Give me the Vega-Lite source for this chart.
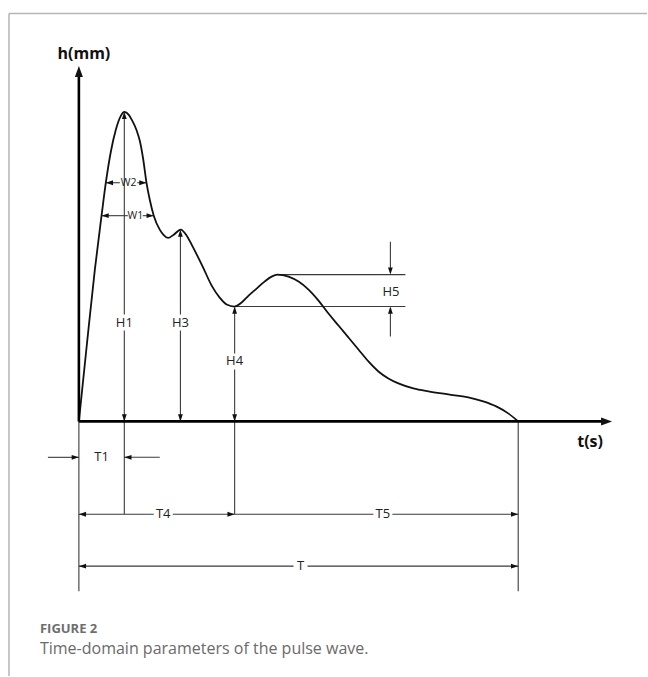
{
  "$schema": "https://vega.github.io/schema/vega-lite/v6.json",
  "width": 648,
  "height": 677,
  "padding": 0,
  "autosize": {"type": "fit", "contains": "padding"},
  "config": {"view": {"stroke": null}},
  "background": "white",
  "datasets": {
    "curve": [
      {"t": 0, "h": 0}, {"t": 8, "h": 77}, {"t": 16, "h": 152}, {"t": 22.7, "h": 206}, {"t": 27, "h": 239},
      {"t": 32, "h": 270}, {"t": 37, "h": 292}, {"t": 42, "h": 306}, {"t": 45.5, "h": 310}, {"t": 50, "h": 307},
      {"t": 53, "h": 302}, {"t": 58, "h": 291}, {"t": 61, "h": 281}, {"t": 64.5, "h": 262}, {"t": 67.7, "h": 239},
      {"t": 71, "h": 222}, {"t": 75, "h": 206}, {"t": 81, "h": 192}, {"t": 85, "h": 186.5}, {"t": 89.3, "h": 183.7},
      {"t": 95, "h": 187}, {"t": 102, "h": 192}, {"t": 108, "h": 186}, {"t": 114, "h": 175}, {"t": 124, "h": 155},
      {"t": 133, "h": 136}, {"t": 141, "h": 124}, {"t": 148, "h": 117}, {"t": 156, "h": 115}, {"t": 163, "h": 119},
      {"t": 170, "h": 126}, {"t": 178, "h": 133}, {"t": 186, "h": 140}, {"t": 193, "h": 145}, {"t": 199, "h": 147},
      {"t": 210, "h": 145}, {"t": 220, "h": 140}, {"t": 230, "h": 132}, {"t": 240, "h": 121}, {"t": 250, "h": 108},
      {"t": 260, "h": 96}, {"t": 270, "h": 84}, {"t": 280, "h": 72}, {"t": 290, "h": 60}, {"t": 300, "h": 50},
      {"t": 310, "h": 43}, {"t": 320, "h": 38}, {"t": 335, "h": 33}, {"t": 350, "h": 30}, {"t": 370, "h": 27},
      {"t": 390, "h": 24}, {"t": 405, "h": 20}, {"t": 418, "h": 15}, {"t": 430, "h": 8}, {"t": 440, "h": 0}
    ],
    "segments": [
      {"k": "frame", "t": -70, "h": 408.5, "t2": 569, "h2": 408.5},
      {"k": "frame", "t": -70, "h": -255, "t2": -70, "h2": 408.5},
      {"k": "axis", "t": 0, "h": 0, "t2": 0, "h2": 350},
      {"k": "axis", "t": 0, "h": 0, "t2": 528, "h2": 0},
      {"k": "dim", "t": 45.5, "h": -93, "t2": 45.5, "h2": 91},
      {"k": "dim", "t": 45.5, "h": 107, "t2": 45.5, "h2": 308},
      {"k": "dim", "t": 101.7, "h": 0, "t2": 101.7, "h2": 91},
      {"k": "dim", "t": 101.7, "h": 107, "t2": 101.7, "h2": 190},
      {"k": "dim", "t": 156, "h": -93, "t2": 156, "h2": 52},
      {"k": "dim", "t": 156, "h": 68, "t2": 156, "h2": 113},
      {"k": "dim", "t": 0, "h": -170, "t2": 0, "h2": 0},
      {"k": "dim", "t": 440, "h": -170, "t2": 440, "h2": 0},
      {"k": "dim", "t": 199, "h": 147, "t2": 327, "h2": 147},
      {"k": "dim", "t": 156, "h": 115, "t2": 327, "h2": 115},
      {"k": "dim", "t": 312, "h": 180, "t2": 312, "h2": 149},
      {"k": "dim", "t": 312, "h": 85, "t2": 312, "h2": 113},
      {"k": "dim", "t": 27, "h": 239, "t2": 41, "h2": 239},
      {"k": "dim", "t": 58.5, "h": 239, "t2": 67.7, "h2": 239},
      {"k": "dim", "t": 22.7, "h": 206, "t2": 49, "h2": 206},
      {"k": "dim", "t": 64, "h": 206, "t2": 75, "h2": 206},
      {"k": "dim", "t": -31, "h": -36, "t2": 0, "h2": -36},
      {"k": "dim", "t": 45.5, "h": -36, "t2": 81, "h2": -36},
      {"k": "dim", "t": 0, "h": -93, "t2": 75, "h2": -93},
      {"k": "dim", "t": 94, "h": -93, "t2": 156, "h2": -93},
      {"k": "dim", "t": 156, "h": -93, "t2": 295, "h2": -93},
      {"k": "dim", "t": 314, "h": -93, "t2": 440, "h2": -93},
      {"k": "dim", "t": 0, "h": -145, "t2": 215, "h2": -145},
      {"k": "dim", "t": 229, "h": -145, "t2": 440, "h2": -145}
    ],
    "arrows": [
      {"t": 0, "h": 356, "dir": "bigup"},
      {"t": 534, "h": 0, "dir": "bigright"},
      {"t": 45.5, "h": 310, "dir": "up"},
      {"t": 45.5, "h": 0, "dir": "down"},
      {"t": 101.7, "h": 192, "dir": "up"},
      {"t": 101.7, "h": 0, "dir": "down"},
      {"t": 156, "h": 115, "dir": "up"},
      {"t": 156, "h": 0, "dir": "down"},
      {"t": 312, "h": 147, "dir": "down"},
      {"t": 312, "h": 115, "dir": "up"},
      {"t": 27, "h": 239, "dir": "left"},
      {"t": 67.7, "h": 239, "dir": "right"},
      {"t": 22.7, "h": 206, "dir": "left"},
      {"t": 75, "h": 206, "dir": "right"},
      {"t": 0, "h": -36, "dir": "right"},
      {"t": 45.5, "h": -36, "dir": "left"},
      {"t": 0, "h": -93, "dir": "left"},
      {"t": 156, "h": -93, "dir": "right"},
      {"t": 440, "h": -93, "dir": "right"},
      {"t": 0, "h": -145, "dir": "left"},
      {"t": 440, "h": -145, "dir": "right"}
    ],
    "labels": [
      {"g": "lbl", "label": "H1", "t": 45.5, "h": 99},
      {"g": "lbl", "label": "H3", "t": 101.7, "h": 99},
      {"g": "lbl", "label": "H4", "t": 156, "h": 60},
      {"g": "lbl", "label": "H5", "t": 312.5, "h": 130},
      {"g": "lbl", "label": "T1", "t": 22.7, "h": -36},
      {"g": "lbl", "label": "T4", "t": 84.5, "h": -93},
      {"g": "lbl", "label": "T5", "t": 304.5, "h": -93},
      {"g": "lbl", "label": "T", "t": 222, "h": -145},
      {"g": "small", "label": "W2", "t": 49.8, "h": 239},
      {"g": "small", "label": "W1", "t": 56.5, "h": 206},
      {"g": "axis", "label": "h(mm)", "t": 5, "h": 368},
      {"g": "axis", "label": "t(s)", "t": 512, "h": -21},
      {"g": "cap1", "label": "FIGURE 2", "t": -39, "h": -208},
      {"g": "cap2", "label": "Time-domain parameters of the pulse wave.", "t": -39, "h": -228}
    ]
  },
  "layer": [
    {
      "data": {"name": "segments"},
      "transform": [{"filter": "datum.k === 'frame'"}],
      "mark": {"type": "rule", "color": "#b5b5b5", "strokeWidth": 1.5},
      "encoding": {
        "x": {"field": "t", "type": "quantitative", "scale": {"domain": [-79, 569], "nice": false, "zero": false}, "axis": null},
        "x2": {"field": "t2"},
        "y": {"field": "h", "type": "quantitative", "scale": {"domain": [-255, 422], "nice": false, "zero": false}, "axis": null},
        "y2": {"field": "h2"}
      }
    },
    {
      "data": {"name": "segments"},
      "transform": [{"filter": "datum.k === 'dim'"}],
      "mark": {"type": "rule", "color": "#3a3a3a", "strokeWidth": 1.1},
      "encoding": {
        "x": {"field": "t", "type": "quantitative", "scale": {"domain": [-79, 569], "nice": false, "zero": false}, "axis": null},
        "x2": {"field": "t2"},
        "y": {"field": "h", "type": "quantitative", "scale": {"domain": [-255, 422], "nice": false, "zero": false}, "axis": null},
        "y2": {"field": "h2"}
      }
    },
    {
      "data": {"name": "curve"},
      "mark": {"type": "line", "color": "#111", "strokeWidth": 1.8, "interpolate": "monotone"},
      "encoding": {
        "x": {"field": "t", "type": "quantitative", "scale": {"domain": [-79, 569], "nice": false, "zero": false}, "axis": null},
        "y": {"field": "h", "type": "quantitative", "scale": {"domain": [-255, 422], "nice": false, "zero": false}, "axis": null}
      }
    },
    {
      "data": {"name": "segments"},
      "transform": [{"filter": "datum.k === 'axis'"}],
      "mark": {"type": "rule", "color": "#000", "strokeWidth": 2.6},
      "encoding": {
        "x": {"field": "t", "type": "quantitative", "scale": {"domain": [-79, 569], "nice": false, "zero": false}, "axis": null},
        "x2": {"field": "t2"},
        "y": {"field": "h", "type": "quantitative", "scale": {"domain": [-255, 422], "nice": false, "zero": false}, "axis": null},
        "y2": {"field": "h2"}
      }
    },
    {
      "data": {"name": "arrows"},
      "mark": {"type": "point", "filled": true, "opacity": 1, "color": "#111", "size": 16, "strokeWidth": 0},
      "encoding": {
        "x": {"field": "t", "type": "quantitative", "scale": {"domain": [-79, 569], "nice": false, "zero": false}, "axis": null},
        "y": {"field": "h", "type": "quantitative", "scale": {"domain": [-255, 422], "nice": false, "zero": false}, "axis": null},
        "shape": {
          "field": "dir", "type": "nominal", "legend": null,
          "scale": {
            "domain": ["up", "down", "left", "right", "bigup", "bigright"],
            "range": [
              "M0,0L-1.2,3.6L1.2,3.6Z",
              "M0,0L-1.2,-3.6L1.2,-3.6Z",
              "M0,0L3.6,-1.2L3.6,1.2Z",
              "M0,0L-3.6,-1.2L-3.6,1.2Z",
              "M0,0L-2,5.5L2,5.5Z",
              "M0,0L-5.5,-2L-5.5,2Z"
            ]
          }
        }
      }
    },
    {
      "data": {"name": "labels"},
      "transform": [{"filter": "datum.g === 'lbl'"}],
      "mark": {"type": "text", "font": "Open Sans", "fontSize": 13, "color": "#222", "align": "center", "baseline": "middle"},
      "encoding": {
        "x": {"field": "t", "type": "quantitative", "scale": {"domain": [-79, 569], "nice": false, "zero": false}, "axis": null},
        "y": {"field": "h", "type": "quantitative", "scale": {"domain": [-255, 422], "nice": false, "zero": false}, "axis": null},
        "text": {"field": "label"}
      }
    },
    {
      "data": {"name": "labels"},
      "transform": [{"filter": "datum.g === 'small'"}],
      "mark": {"type": "text", "font": "Open Sans", "fontSize": 10.5, "color": "#222", "align": "center", "baseline": "middle"},
      "encoding": {
        "x": {"field": "t", "type": "quantitative", "scale": {"domain": [-79, 569], "nice": false, "zero": false}, "axis": null},
        "y": {"field": "h", "type": "quantitative", "scale": {"domain": [-255, 422], "nice": false, "zero": false}, "axis": null},
        "text": {"field": "label"}
      }
    },
    {
      "data": {"name": "labels"},
      "transform": [{"filter": "datum.g === 'axis'"}],
      "mark": {"type": "text", "font": "Open Sans", "fontSize": 16, "fontWeight": "bold", "color": "#111", "align": "center", "baseline": "middle"},
      "encoding": {
        "x": {"field": "t", "type": "quantitative", "scale": {"domain": [-79, 569], "nice": false, "zero": false}, "axis": null},
        "y": {"field": "h", "type": "quantitative", "scale": {"domain": [-255, 422], "nice": false, "zero": false}, "axis": null},
        "text": {"field": "label"}
      }
    },
    {
      "data": {"name": "labels"},
      "transform": [{"filter": "datum.g === 'cap1'"}],
      "mark": {"type": "text", "font": "Open Sans", "fontSize": 13, "fontWeight": "bold", "color": "#6e6e6e", "align": "left", "baseline": "middle"},
      "encoding": {
        "x": {"field": "t", "type": "quantitative", "scale": {"domain": [-79, 569], "nice": false, "zero": false}, "axis": null},
        "y": {"field": "h", "type": "quantitative", "scale": {"domain": [-255, 422], "nice": false, "zero": false}, "axis": null},
        "text": {"field": "label"}
      }
    },
    {
      "data": {"name": "labels"},
      "transform": [{"filter": "datum.g === 'cap2'"}],
      "mark": {"type": "text", "font": "Open Sans", "fontSize": 16, "color": "#6a6a6a", "align": "left", "baseline": "middle"},
      "encoding": {
        "x": {"field": "t", "type": "quantitative", "scale": {"domain": [-79, 569], "nice": false, "zero": false}, "axis": null},
        "y": {"field": "h", "type": "quantitative", "scale": {"domain": [-255, 422], "nice": false, "zero": false}, "axis": null},
        "text": {"field": "label"}
      }
    }
  ]
}
